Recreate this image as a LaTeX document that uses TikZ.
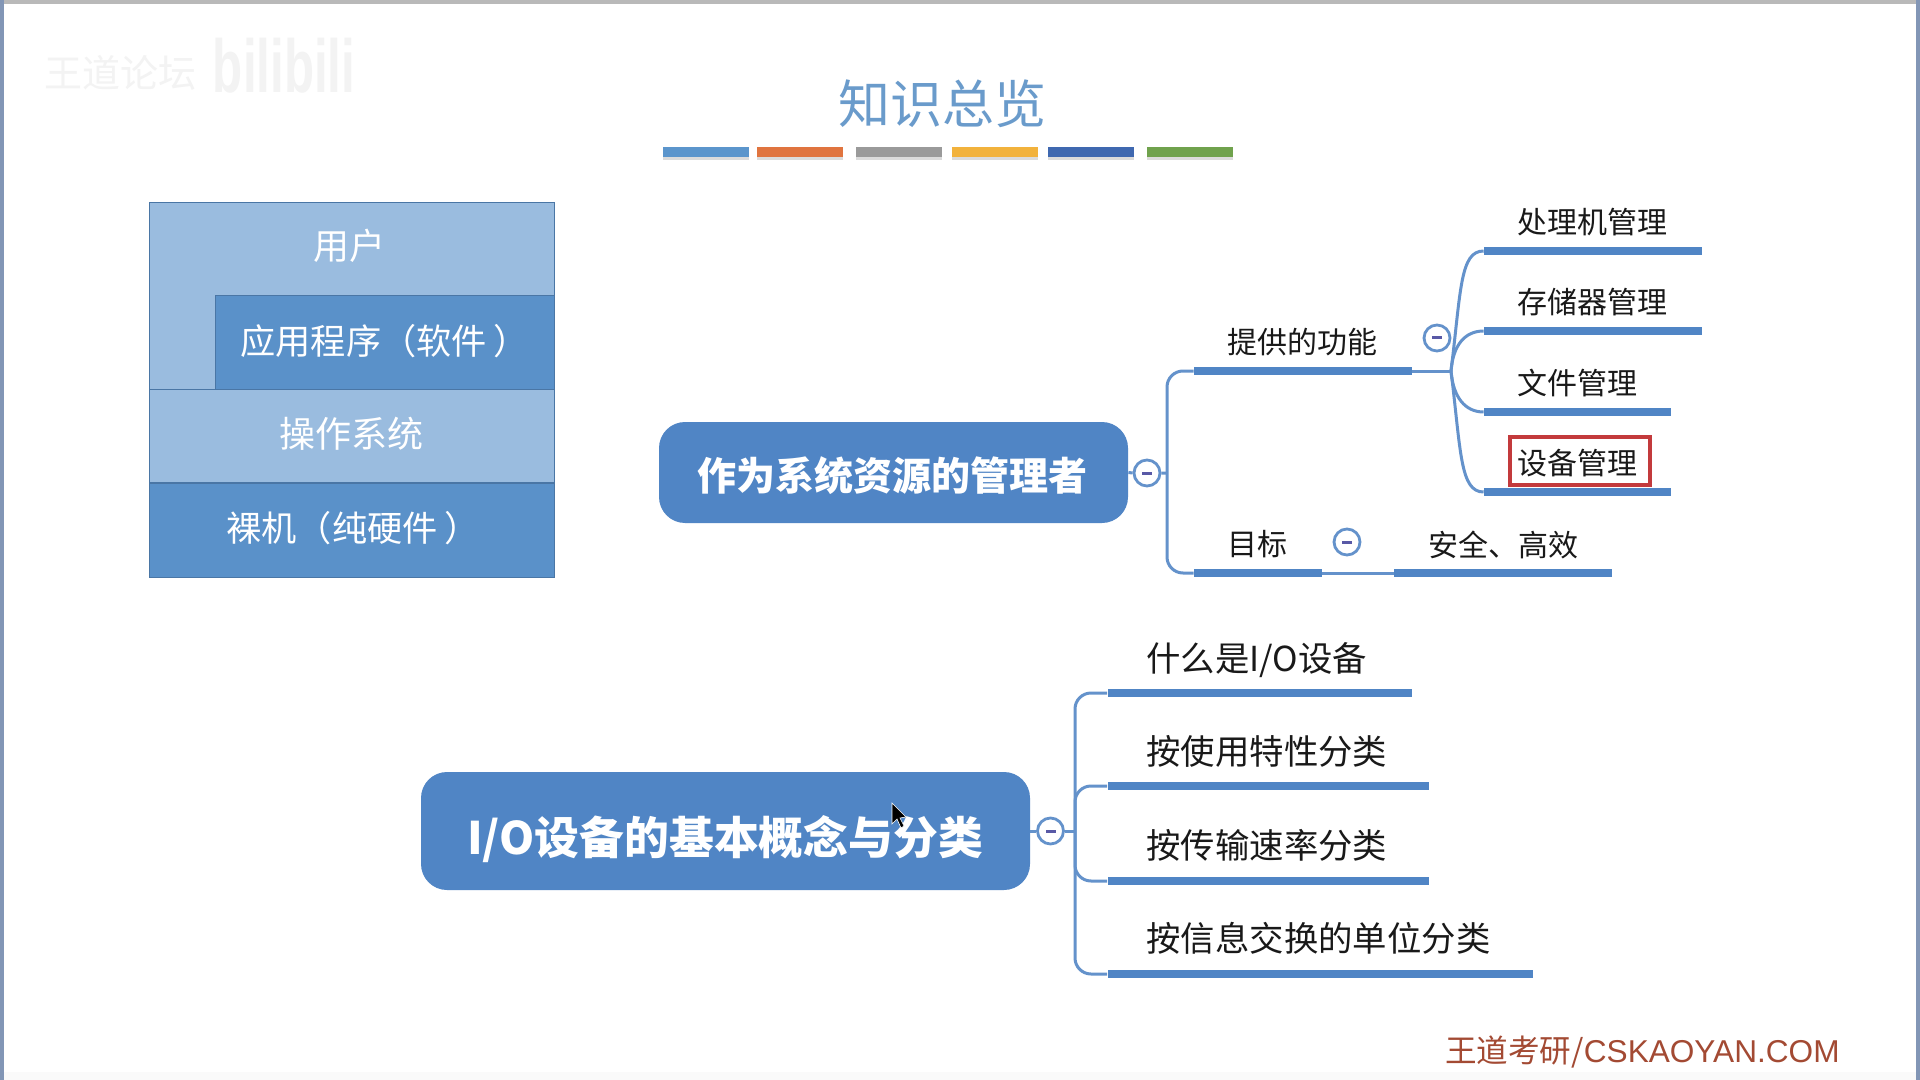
\documentclass[tikz,border=0pt]{standalone}
\usepackage{fontspec}
\setmainfont{Noto Sans CJK SC}
\newfontfamily\latinf{Liberation Sans}
\definecolor{mapblue}{HTML}{5085C5}
\definecolor{linkblue}{HTML}{6492CB}
\definecolor{lightbox}{HTML}{9ABCDF}
\definecolor{darkbox}{HTML}{5A91C9}
\definecolor{edgeblue}{HTML}{4A76A5}
\definecolor{titleblue}{HTML}{6A9BCB}
\definecolor{redbox}{HTML}{C33A3C}
\definecolor{footred}{HTML}{A34A33}
\definecolor{wm}{HTML}{F3F3F3}
\definecolor{framecol}{HTML}{8296B6}
\newcommand{\fsz}[1]{\fontsize{#1}{#1}\selectfont}
\tikzset{
  x=0.5pt,y=-0.5pt,
  stackbox/.style={draw=edgeblue,line width=0.5pt,inner sep=0},
  stacktext/.style={text=white,font=\fsz{17.6},inner sep=0},
  rootnode/.style={fill=mapblue,rounded corners=13pt,inner sep=0,text=white,font=\bfseries},
  barline/.style={fill=mapblue,inner sep=0,minimum height=4.4pt},
  leaftext/.style={text=black!90,font=\fsz{15}},
  leaftextb/.style={text=black!90,font=\fsz{17.2},inner sep=0},
  conn/.style={draw=linkblue,line width=1.5pt},
  foldmark/.style={draw=linkblue,fill=white,circle,line width=1.4pt,minimum size=13pt,inner sep=0},
  colourbar/.style={inner sep=0,minimum height=4.6pt,minimum width=43pt},
}
% name, left, right, y
\newcommand{\mapbar}[4]{\node[barline,minimum width={(#3-#2)*0.5pt}] (#1) at ({(#2+#3)/2},#4) {};}
\newcommand{\foldat}[3]{\node[foldmark] (#1) at (#2,#3) {};\fill[gray!70!blue] (#2-5,#3-1.5) rectangle (#2+5,#3+1.5);}
\begin{document}
\begin{tikzpicture}
\useasboundingbox (0,0) rectangle (1920,1080);
\fill[white] (0,0) rectangle (1920,1080);
% window frame
\fill[gray!55] (0,0) rectangle (1920,4);
\fill[framecol] (0,0) rectangle (4,1080);
\fill[framecol] (1916,0) rectangle (1920,1080);
\fill[black!2] (4,1072) rectangle (1916,1080);
% watermark
\node[text=wm,font=\fsz{19}] (wmtext) at (120,73) {王道论坛};
\node[text=wm,font=\fsz{30}\bfseries\latinf,xscale=0.82,yscale=1.25] (wmlogo) at (284,66) {bilibili};
% title
\node[text=titleblue,font=\fsz{26}] (title) at (942,104) {知识总览};
\foreach \nm/\xa/\col in {ca/705.5/5B95CC,cb/800/E0743F,cc/898.5/9A9A9A,cd/994.5/F2B23C,ce/1091/3F68B0,cf/1189.5/70A24D}{
  \definecolor{tmpc}{HTML}{\col}
  \fill[gray!28] (\xa-43,157) rectangle (\xa+43,160);
  \node[colourbar,fill=tmpc] (\nm) at (\xa,152) {};
}
% layered stack
\draw[draw=edgeblue,line width=0.5pt,fill=lightbox] (149.5,203) -- (554.5,203) -- (554.5,296) -- (215,296) -- (215,390) -- (149.5,390) -- cycle;
\node[stackbox,fill=darkbox,minimum width=169.5pt,minimum height=47pt] (app) at (384.5,342.5) {};
\node[stackbox,fill=lightbox,minimum width=202.5pt,minimum height=46.5pt] (os) at (352,436) {};
\node[stackbox,fill=darkbox,minimum width=202.5pt,minimum height=47pt] (hw) at (352,530) {};
\node[stacktext,font=\fsz{18}] (tuser) at (349,246) {用户};
\node[stacktext,anchor=west] (tapp) at (240,341) {应用程序（软件\hspace{3.5pt}）};
\node[stacktext,font=\fsz{18}] (tos) at (351,434) {操作系统};
\node[stacktext,anchor=west] (thw) at (226,528) {裸机（纯硬件\hspace{3.5pt}）};
% map 1
\node[rootnode,minimum width=234.5pt,minimum height=50.5pt] (r1) at (893.5,472.5) {};
\node[text=white,font=\fsz{19.5}\bfseries] (r1t) at (892,476) {作为系统资源的管理者};
\foldat{f1}{1147}{473}
\coordinate (j1) at (1167,473);
\mapbar{func}{1194}{1412}{371}
\mapbar{goal}{1194}{1322}{573}
\mapbar{safe}{1394}{1612}{573}
\mapbar{b1}{1484}{1702}{251}
\mapbar{b2}{1484}{1702}{331}
\mapbar{b3}{1484}{1671}{412}
\mapbar{b4}{1484}{1671}{492}
\draw[conn] (r1.east) -- (f1.west) (f1.east) -- (j1);
\draw[conn,rounded corners=8pt] (func.west) -| (j1) |- (goal.west);
\coordinate (j2) at (1451,371);
\draw[conn] (func.east) -- (j2);
\draw[conn] (j2) .. controls (1461,290) and (1460,251) .. (b1.west);
\draw[conn] (j2) .. controls (1453,345) and (1465,331) .. (b2.west);
\draw[conn] (j2) .. controls (1453,397) and (1465,412) .. (b3.west);
\draw[conn] (j2) .. controls (1461,452) and (1460,492) .. (b4.west);
\draw[conn] (goal.east) -- (safe.west);
\foldat{f2}{1437}{338}
\foldat{f3}{1347}{542}
\node[leaftext] (tfunc) at (1302,342) {提供的功能};
\node[leaftext] (tgoal) at (1257,544) {目标};
\node[leaftext] (tsafe) at (1503,545) {安全、高效};
\node[leaftext] (t1) at (1592,222) {处理机管理};
\node[leaftext] (t2) at (1592,302) {存储器管理};
\node[leaftext] (t3) at (1577,383) {文件管理};
\node[leaftext] (t4) at (1577,463) {设备管理};
\node[draw=redbox,line width=1.6pt,minimum width=70pt,minimum height=24pt,inner sep=0] (red) at (1580,461) {};
% map 2
\node[rootnode,minimum width=304.5pt,minimum height=59pt] (r2) at (725.5,831) {};
\node[text=white,font=\fsz{22.4}\bfseries] (r2t) at (725,839) {I/O设备的基本概念与分类};
\foldat{f4}{1050.5}{831}
\coordinate (j3) at (1075,831);
\mapbar{c1}{1107.6}{1412}{693}
\mapbar{c2}{1107.6}{1429}{786}
\mapbar{c3}{1107.6}{1429}{881}
\mapbar{c4}{1107.6}{1533}{974}
\draw[conn] (r2.east) -- (f4.west) (f4.east) -- (j3);
\draw[conn,rounded corners=8pt] (c1.west) -| (j3) |- (c4.west);
\draw[conn,rounded corners=8pt] (c2.west) -| (j3) |- (c3.west);
\node[leaftextb,anchor=west] (s1) at (1146,660) {什么是I/O设备};
\node[leaftextb,anchor=west] (s2) at (1146,751) {按使用特性分类};
\node[leaftextb,anchor=west] (s3) at (1146,845) {按传输速率分类};
\node[leaftextb,anchor=west] (s4) at (1146,938) {按信息交换的单位分类};
% cursor
\fill[black,draw=white,line width=0.3pt] (892,803) -- (892,824) -- (897,819) -- (901,828) -- (904,826) -- (900,818) -- (906,817) -- cycle;
% footer
\node[text=footred,font=\fsz{15.8},anchor=east,inner sep=0] (foot) at (1840,1052) {王道考研/{\latinf CSKAOYAN.COM}};
\end{tikzpicture}
\end{document}
